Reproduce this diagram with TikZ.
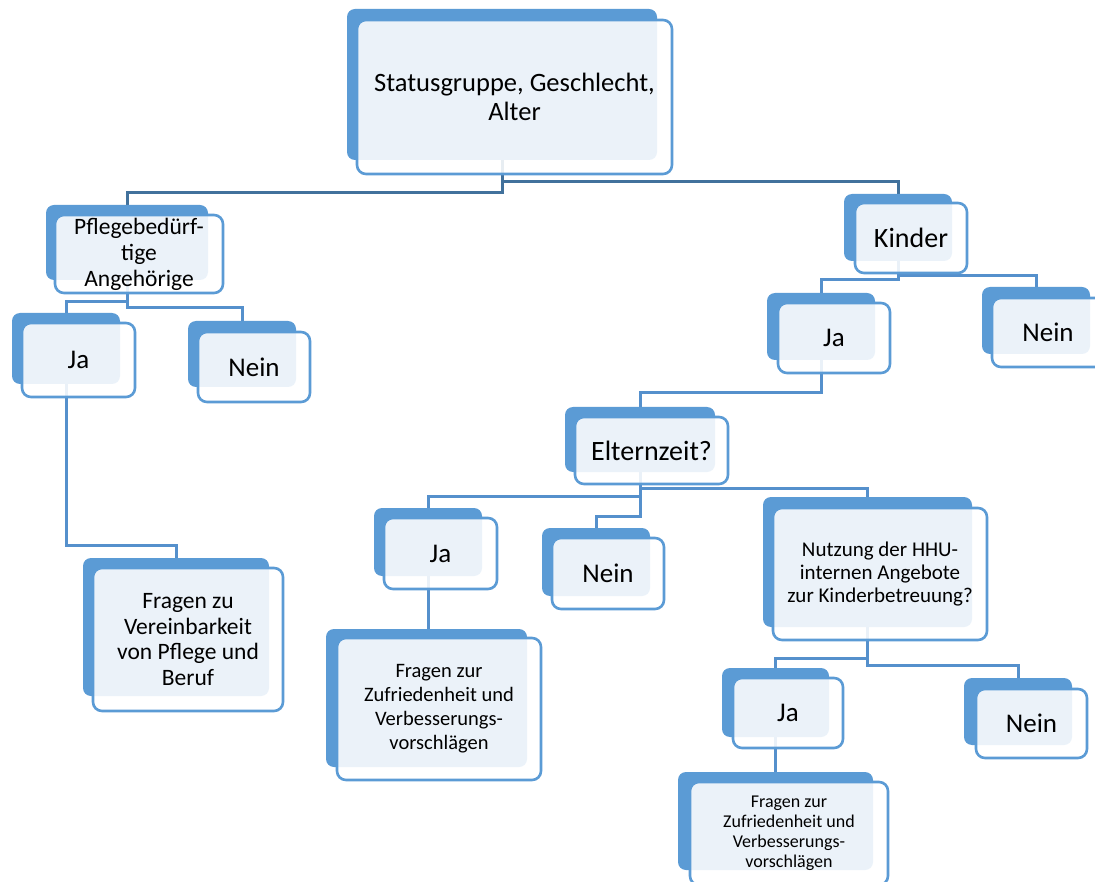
\documentclass[tikz,border=0pt]{standalone}
\usepackage{fontspec}
\setmainfont{Carlito}
\usetikzlibrary{fit,backgrounds}
\definecolor{boxblue}{HTML}{5B9BD5}
\definecolor{linedark}{HTML}{41719C}
\definecolor{linemid}{HTML}{5590CC}
\tikzset{
  backbox/.style={fill=boxblue, draw=none, rounded corners=8pt, inner sep=0pt},
  frontbox/.style={fill=white, fill opacity=0.88, draw=boxblue, draw opacity=1, line width=2.6pt, rounded corners=9pt, inner sep=0pt},
  boxtext/.style={align=center, text=black, inner sep=0pt},
  conntop/.style={draw=linedark, line width=3pt},
  conn/.style={draw=linemid, line width=3pt},
}
\newcommand\smbox[7]{%
  \node[backbox, fit={#2 #3}] (#1b) {};
  \node[frontbox, fit={#4 #5}] (#1f) {};
  \node[boxtext, font=#6] (#1t) at (#1f.center) {#7};
}
\begin{document}
\begin{tikzpicture}[x=1pt,y=-1pt]
\useasboundingbox (0,0) rectangle (1095,882);
\clip (0,0) rectangle (1095,882);

\smbox{root}{(347,9)}{(657,160)}{(357,20)}{(672,174)}{\fontsize{26.5}{29}\selectfont}{Statusgruppe, Geschlecht,\\Alter}
\smbox{pfleg}{(46,205)}{(208,280)}{(55,215)}{(223,293)}{\fontsize{23.5}{26}\selectfont}{Pflegebedürf-\\tige\\Angehörige}
\smbox{jaA}{(12,313)}{(120,384)}{(22,323)}{(135,397)}{\fontsize{27}{30}\selectfont}{Ja}
\smbox{neinA}{(188,321)}{(296,387)}{(198,332)}{(310,402)}{\fontsize{27}{30}\selectfont}{Nein}
\smbox{fragA}{(83,558)}{(269,696)}{(93,568)}{(283,711)}{\fontsize{23.5}{25.5}\selectfont}{Fragen zu\\Vereinbarkeit\\von Pflege und\\Beruf}
\smbox{kinder}{(844,194)}{(952,261)}{(855,203)}{(967,273)}{\fontsize{28}{30}\selectfont}{Kinder}
\smbox{jaB}{(767,293)}{(875,360)}{(778,303)}{(890,373)}{\fontsize{27}{30}\selectfont}{Ja}
\smbox{neinB}{(982,287)}{(1090,354)}{(992,298)}{(1104,367)}{\fontsize{27}{30}\selectfont}{Nein}
\smbox{elt}{(565,407)}{(715,472)}{(575,417)}{(728,484)}{\fontsize{28}{30}\selectfont}{Elternzeit?}
\smbox{jaC}{(374,508)}{(482,576)}{(384,518)}{(497,589)}{\fontsize{27}{30}\selectfont}{Ja}
\smbox{neinC}{(542,528)}{(650,596)}{(552,538)}{(664,609)}{\fontsize{27}{30}\selectfont}{Nein}
\smbox{fragB}{(326,629)}{(527,767)}{(337,638)}{(541,780)}{\fontsize{20.5}{24}\selectfont}{Fragen zur\\Zufriedenheit und\\Verbesserungs-\\vorschlägen}
\smbox{nutz}{(763,497)}{(972,627)}{(773,508)}{(987,640)}{\fontsize{21}{23}\selectfont}{Nutzung der HHU-\\internen Angebote\\zur Kinderbetreuung?}
\smbox{jaD}{(722,668)}{(829,737)}{(733,678)}{(843,748)}{\fontsize{27}{30}\selectfont}{Ja}
\smbox{neinD}{(964,678)}{(1072,745)}{(976,689)}{(1087,758)}{\fontsize{27}{30}\selectfont}{Nein}
\smbox{fragC}{(678,772)}{(873,870)}{(690,782)}{(888,885)}{\fontsize{18}{20}\selectfont}{Fragen zur\\Zufriedenheit und\\Verbesserungs-\\vorschlägen}

\begin{pgfonlayer}{background}
\fill[white] (0,0) rectangle (1095,882);
\draw[conntop] (rootb.south) |- (pflegb.north |- 0,193) -- (pflegb.north);
\draw[conntop] (rootb.south) |- (kinderb.north |- 0,182) -- (kinderb.north);
\draw[conn] (pflegb.south) |- (jaAb.north |- 0,302) -- (jaAb.north);
\draw[conn] (pflegb.south) |- (neinAb.north |- 0,308) -- (neinAb.north);
\draw[conn] (jaAb.south) |- (fragAb.north |- 0,545) -- (fragAb.north);
\draw[conn] (kinderb.south) |- (jaBb.north |- 0,280) -- (jaBb.north);
\draw[conn] (kinderb.south) |- (neinBb.north |- 0,276) -- (neinBb.north);
\draw[conn] (jaBb.south) |- (eltb.north |- 0,393) -- (eltb.north);
\draw[conn] (eltb.south) |- (jaCb.north |- 0,496) -- (jaCb.north);
\draw[conn] (eltb.south) |- (neinCb.north |- 0,516) -- (neinCb.north);
\draw[conn] (eltb.south) |- (nutzb.north |- 0,488) -- (nutzb.north);
\draw[conn] (jaCb.south) -- (jaCb.south |- fragBb.north);
\draw[conn] (nutzb.south) |- (jaDb.north |- 0,658) -- (jaDb.north);
\draw[conn] (nutzb.south) |- (neinDb.north |- 0,665) -- (neinDb.north);
\draw[conn] (jaDb.south) -- (jaDb.south |- fragCb.north);
\end{pgfonlayer}
\end{tikzpicture}
\end{document}
